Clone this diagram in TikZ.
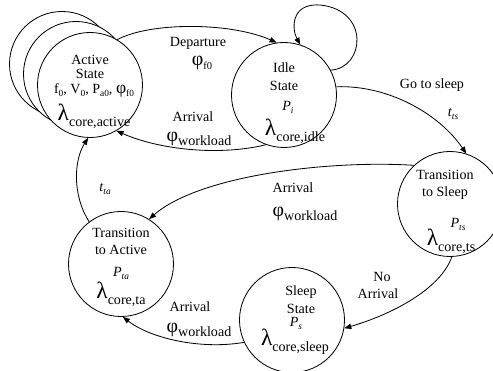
\documentclass[tikz,border=0pt]{standalone}
\usepackage{fontspec}
\setmainfont{Liberation Serif}
\usetikzlibrary{arrows.meta}
\newcommand\lamsub[1]{{\fontsize{20pt}{20pt}\selectfont λ}\raisebox{-5pt}{#1}}
\newcommand\phisub[1]{{\fontsize{17pt}{17pt}\selectfont φ}\raisebox{-4pt}{#1}}
\newcommand\ssub[1]{\raisebox{-2.5pt}{\fontsize{8pt}{8pt}\selectfont #1}}
\begin{document}
\begin{tikzpicture}[x=0.03cm,y=-0.03cm,
  state/.style={circle,draw,line width=0.7pt,minimum size=3.15cm,inner sep=0pt,fill=white},
  txt/.style={inner sep=0pt,font=\fontsize{12pt}{13pt}\selectfont},
  edge/.style={line width=0.7pt,-{Triangle[length=6pt,width=4.5pt]}}]
\useasboundingbox (0,0) rectangle (493,371);
% states
\node[state] (A3) at (62,64) {};
\node[state] (A2) at (76,74) {};
\node[state] (A) at (90,85) {};
\node[state] (I) at (284,95) {};
\node[state] (TS) at (450,204) {};
\node[state] (S) at (292,320) {};
\node[state] (TA) at (121,264) {};
% state texts
\node[txt] (At1) at (90,60) {Active};
\node[txt] (At2) at (90,74) {State};
\node[txt] (At3) at (94,90) {f\ssub{0}, V\ssub{0}, P\ssub{a0}, {\fontsize{15pt}{15pt}\selectfont φ}\ssub{f0}};
\node[txt] (At4) at (94,116) {\lamsub{core,active}};
\node[txt] (It1) at (284,68) {Idle};
\node[txt] (It2) at (284,86) {State};
\node[txt] (It3) at (288,107) {\textit{P}\ssub{\textit{i}}};
\node[txt] (It4) at (295,131) {\lamsub{core,idle}};
\node[txt] (Tt1) at (445,175) {Transition};
\node[txt] (Tt2) at (445,193) {to Sleep};
\node[txt] (Tt3) at (458,224) {\textit{P}\ssub{\textit{ts}}};
\node[txt] (Tt4) at (451,241) {\lamsub{core,ts}};
\node[txt] (St1) at (301,292) {Sleep};
\node[txt] (St2) at (301,309) {State};
\node[txt] (St3) at (296,323) {\textit{P}\ssub{\textit{s}}};
\node[txt] (St4) at (295,342) {\lamsub{core,sleep}};
\node[txt] (Xt1) at (121,233) {Transition};
\node[txt] (Xt2) at (121,250) {to Active};
\node[txt] (Xt3) at (121,273) {\textit{P}\ssub{\textit{ta}}};
\node[txt] (Xt4) at (121,294) {\lamsub{core,ta}};
% edge labels
\node[txt] (L1a) at (198,43) {Departure};
\node[txt] (L1b) at (202,63) {\phisub{\fontsize{9pt}{9pt}\selectfont f0}};
\node[txt] (L2a) at (193,117) {Arrival};
\node[txt] (L2b) at (199,139) {\phisub{workload}};
\node[txt] (L3a) at (432,85) {Go to sleep};
\node[txt] (L3b) at (453,114) {\textit{t}\ssub{\textit{ts}}};
\node[txt] (L4a) at (293,188) {Arrival};
\node[txt] (L4b) at (305,214) {\phisub{workload}};
\node[txt] (L5a) at (105,189) {\textit{t}\ssub{\textit{ta}}};
\node[txt] (L6a) at (382,277) {No};
\node[txt] (L6b) at (378,294) {Arrival};
\node[txt] (L7a) at (190,307) {Arrival};
\node[txt] (L7b) at (199,330) {\phisub{workload}};
% edges
\draw[edge] (A.59) .. controls (150,22) and (230,22) .. (I.98);
\draw[edge] (I.28) .. controls (365,68) and (370,10) .. (320,5) .. controls (290,3) and (292,30) .. (I.72);
\draw[edge] (I.250) .. controls (220,156) and (160,150) .. (A.-60);
\draw[edge] (I.9) .. controls (390,85) and (440,115) .. (TS.72);
\draw[edge] (TS.133) .. controls (330,160) and (200,175) .. (TA.58);
\draw[edge] (TA.127) .. controls (72,195) and (74,160) .. (A.-92);
\draw[edge] (TS.-88) .. controls (440,290) and (390,315) .. (S.-9);
\draw[edge] (S.205) .. controls (200,350) and (150,338) .. (TA.-88);
\end{tikzpicture}
\end{document}
